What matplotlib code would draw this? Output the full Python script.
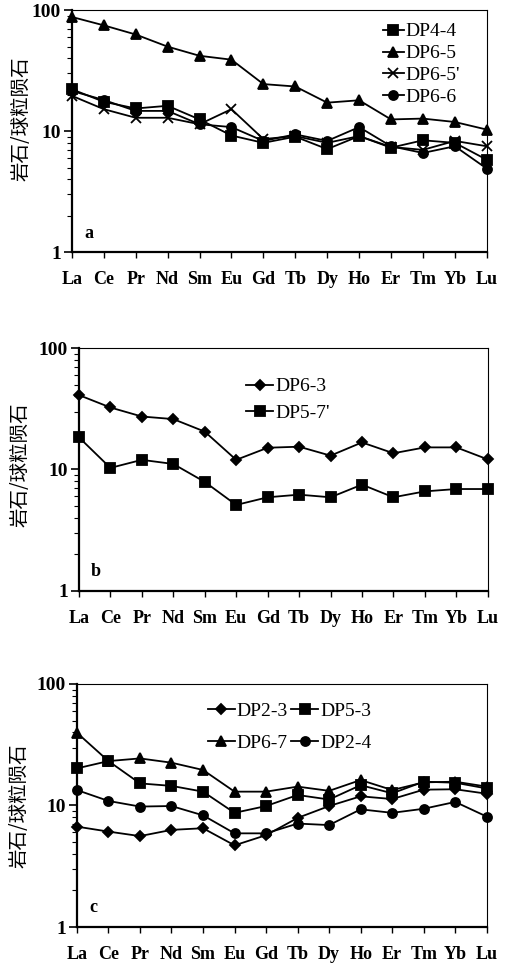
"""稀土元素球粒陨石标准化配分图（a/b/c 三个面板）。"""
import matplotlib
import matplotlib.pyplot as plt

matplotlib.use("Agg")

plt.rcParams["font.family"] = ["Liberation Serif", "Noto Sans CJK SC"]

DPI = 100
WIDTH_PX, HEIGHT_PX = 506, 975
FIGSIZE = (WIDTH_PX / DPI, HEIGHT_PX / DPI)

ELEMENTS = ["La", "Ce", "Pr", "Nd", "Sm", "Eu", "Gd", "Tb", "Dy", "Ho", "Er", "Tm", "Yb", "Lu"]
Y_TICKS = [1, 10, 100]
Y_LABEL = "岩石/球粒陨石"

# 面板 a
DP4_4 = [22.2, 17.5, 15.4, 16.2, 12.5, 9.2, 8.0, 9.0, 7.1, 9.1, 7.3, 8.4, 8.0, 5.8]
DP6_5 = [88, 75, 63, 50, 42, 39, 24.5, 23.4, 17.2, 18.0, 12.5, 12.7, 11.9, 10.3]
DP6_5p = [19.6, 15.2, 12.9, 12.9, 11.4, 15.2, 8.6, 9.1, 8.0, 9.1, 7.4, 7.0, 8.3, 7.5]
DP6_6 = [21.5, 18.1, 14.7, 14.7, 11.4, 10.8, 8.3, 9.4, 8.3, 10.8, 7.5, 6.6, 7.5, 4.9]

# 面板 b
DP6_3 = [41, 32.4, 27.3, 26, 20.5, 12.0, 15.1, 15.4, 13.0, 16.7, 13.6, 15.2, 15.2, 12.1]
DP5_7p = [18.4, 10.3, 12.0, 11.1, 7.9, 5.1, 5.9, 6.2, 5.9, 7.5, 5.9, 6.6, 6.9, 6.9]

# 面板 c
DP2_3 = [6.7, 6.1, 5.6, 6.3, 6.5, 4.7, 5.7, 7.9, 9.9, 11.9, 11.3, 13.5, 13.6, 12.5]
DP5_3 = [20.2, 23.2, 15.2, 14.5, 13.0, 8.7, 9.9, 12.2, 11.2, 14.7, 12.6, 15.7, 15.4, 13.8]
DP6_7 = [39.7, 23.2, 24.4, 22.5, 19.6, 13.0, 13.0, 14.3, 13.2, 16.2, 13.4, 15.5, 15.7, 14.3]
DP2_4 = [13.4, 10.9, 9.8, 9.9, 8.3, 5.9, 5.9, 7.1, 6.9, 9.3, 8.7, 9.4, 10.7, 8.1]

# 各面板在图中的位置 [left, bottom, width, height]
PANEL_RECTS = {
    "a": [0.142, 0.7415, 0.820, 0.248],
    "b": [0.156, 0.394, 0.808, 0.249],
    "c": [0.152, 0.0492, 0.810, 0.2493],
}
MARKER = {"square": "s", "triangle": "^", "cross": "x", "circle": "o", "diamond": "D"}


def _style_axes(ax, letter, label_x, label_y):
    ax.set_yscale("log")
    ax.set_ylim(1, 100)
    ax.set_xlim(0, len(ELEMENTS) - 1)
    ax.set_xticks(range(len(ELEMENTS)))
    ax.set_xticklabels(ELEMENTS, fontsize=13, fontweight="bold")
    ax.set_yticks(Y_TICKS)
    ax.set_yticklabels([str(t) for t in Y_TICKS], fontsize=14, fontweight="bold")
    ax.tick_params(axis="x", length=4, width=1, pad=10)
    ax.tick_params(axis="y", which="major", length=6, width=1.2, pad=2)
    ax.tick_params(axis="y", which="minor", length=3.5, width=0.8)
    ax.spines["left"].set_linewidth(1.6)
    ax.spines["bottom"].set_linewidth(1.6)
    ax.spines["top"].set_linewidth(0.8)
    ax.spines["right"].set_linewidth(0.8)
    ax.set_ylabel(Y_LABEL, family=["Noto Sans CJK SC"], fontsize=14)
    ax.yaxis.set_label_coords(label_x, label_y)
    ax.text(0.03, 0.06, letter, transform=ax.transAxes, fontsize=13, fontweight="bold")


def _plot(ax, values, marker, label, ms=6.5):
    ax.plot(range(len(ELEMENTS)), values, color="black", lw=1.3, marker=marker,
            ms=ms, mew=1.3, label=label, clip_on=False)


fig = plt.figure(figsize=FIGSIZE, dpi=DPI)

# a
ax_a = fig.add_axes(PANEL_RECTS["a"])
_plot(ax_a, DP4_4, MARKER["square"], "DP4-4")
_plot(ax_a, DP6_5, MARKER["triangle"], "DP6-5")
_plot(ax_a, DP6_5p, MARKER["cross"], "DP6-5'", ms=7)
_plot(ax_a, DP6_6, MARKER["circle"], "DP6-6")
_style_axes(ax_a, "a", -0.096, 0.55)
ax_a.legend(loc="upper left", bbox_to_anchor=(0.73, 0.98), frameon=False, fontsize=14,
            handlelength=1.1, handletextpad=0.1, labelspacing=0.22, borderaxespad=0)

# b
ax_b = fig.add_axes(PANEL_RECTS["b"])
_plot(ax_b, DP6_3, MARKER["diamond"], "DP6-3", ms=5.5)
_plot(ax_b, DP5_7p, MARKER["square"], "DP5-7'")
_style_axes(ax_b, "b", -0.118, 0.52)
ax_b.legend(loc="upper left", bbox_to_anchor=(0.39, 0.91), frameon=False, fontsize=14,
            handlelength=1.4, handletextpad=0.1, labelspacing=0.45, borderaxespad=0)

# c
ax_c = fig.add_axes(PANEL_RECTS["c"])
_plot(ax_c, DP2_3, MARKER["diamond"], "DP2-3", ms=5.5)
_plot(ax_c, DP6_7, MARKER["triangle"], "DP6-7")
_plot(ax_c, DP5_3, MARKER["square"], "DP5-3")
_plot(ax_c, DP2_4, MARKER["circle"], "DP2-4")
_style_axes(ax_c, "c", -0.115, 0.5)
ax_c.legend(loc="upper left", bbox_to_anchor=(0.30, 0.955), ncol=2, frameon=False,
            fontsize=14, handlelength=1.4, handletextpad=0.1, labelspacing=0.7,
            columnspacing=0.15, borderaxespad=0)

fig.savefig("out.png", dpi=DPI)
plt.close(fig)
